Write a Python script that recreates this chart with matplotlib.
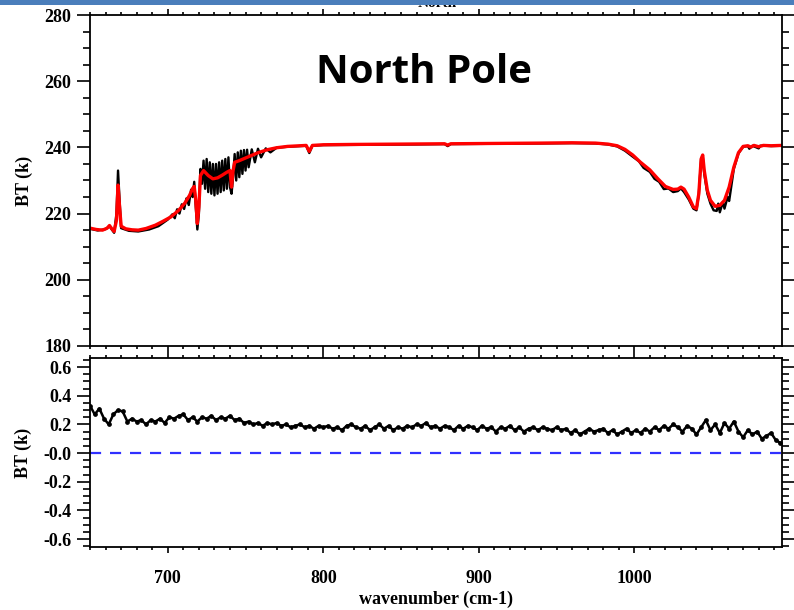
import numpy as np
import matplotlib
matplotlib.use("Agg")
import matplotlib.pyplot as plt
from matplotlib.ticker import MultipleLocator, FixedLocator, FixedFormatter
from matplotlib.patches import Rectangle

plt.rcParams['font.family'] = ['Liberation Serif', 'DejaVu Serif']
plt.rcParams['font.weight'] = 'bold'
plt.rcParams['axes.unicode_minus'] = False

# top panel: observed (black) and simulated (red) brightness temperature
wn_blk = [650, 655, 660, 662.5, 665.5, 667, 668, 669, 670, 675, 681, 688, 694, 700,
          703, 704.5, 706, 707.5, 709, 710.5, 712, 713.5, 715, 716, 717, 718, 719, 720,
          721, 722, 723, 724, 725, 726, 727, 728, 729, 730, 731, 732, 733, 734, 735, 736,
          737, 738, 739, 740, 741, 742, 743, 744, 745, 746, 747, 748, 749, 750, 751, 752,
          754, 756, 758, 760, 763, 766, 770, 777, 785, 789, 791, 793, 800, 830, 860, 878,
          880, 882, 910, 940, 960, 975, 983, 989, 994, 999, 1003, 1006, 1010, 1013, 1016,
          1019, 1022, 1025, 1028, 1030, 1032, 1035, 1038, 1040, 1041.5, 1043, 1044, 1045,
          1047, 1049, 1051, 1053, 1054, 1055, 1057, 1058, 1060, 1061, 1062, 1064, 1067,
          1070, 1073, 1074, 1076, 1080, 1081, 1084, 1088, 1095]
bt_blk = [215.4, 214.9, 215.3, 216.2, 214.2, 220.0, 233.0, 224.0, 215.6, 214.8, 214.6, 215.2, 216.2, 218.2,
          219.8, 218.6, 221.3, 220.0, 222.8, 221.4, 224.6, 222.6, 227.2, 225.0, 229.6, 222.0, 215.2, 220.0,
          233.5, 229.0, 236.0, 227.5, 236.5, 226.5, 235.5, 226.0, 235.0, 225.5, 235.0, 226.0, 235.5, 226.5, 236.0, 227.0,
          236.5, 227.5, 237.0, 228.0, 226.0, 231.0, 238.0, 230.0, 238.5, 231.0, 239.0, 232.0, 239.2, 233.0, 239.3, 234.0,
          239.4, 235.5, 239.6, 237.0, 239.7, 238.5, 239.9, 240.2, 240.4, 240.5, 238.3, 240.5, 240.7, 240.8, 240.9, 241.0,
          240.4, 241.0, 241.1, 241.2, 241.3, 241.2, 240.9, 240.3, 239.0, 237.2, 235.8, 233.8, 232.6, 230.5, 229.6,
          227.4, 227.6, 226.5, 226.8, 227.6, 226.5, 224.3, 221.5, 221.0, 226.0, 236.5, 237.5, 232.0,
          226.0, 223.0, 221.0, 220.8, 223.0, 220.4, 223.5, 221.5, 225.0, 223.8, 227.0, 233.5, 238.2,
          240.2, 240.4, 239.6, 240.5, 239.7, 240.5, 240.5, 240.4, 240.5]

wn_red = [650, 654, 658, 661, 662.5, 664, 665.5, 667, 668, 669, 670, 673, 677, 681, 686, 692,
          697, 702, 707, 711, 714, 716, 717, 718, 719, 720, 721, 723, 726, 729, 732, 735, 738,
          740, 741, 742, 743, 746, 750, 754, 758, 764, 770, 777, 785, 789, 791, 793, 800, 820,
          850, 878, 880, 882, 910, 940, 960, 975, 983, 989, 994, 999, 1004, 1010, 1015, 1020,
          1025, 1028, 1030, 1032, 1035, 1038, 1040, 1041.5, 1043, 1044, 1045, 1047, 1049, 1052,
          1055, 1058, 1061, 1064, 1067, 1070, 1073, 1075, 1077, 1080, 1083, 1088, 1095]
bt_red = [215.6, 215.2, 215.0, 215.6, 216.4, 215.4, 214.6, 218.0, 228.6, 222.0, 216.2, 215.4, 215.1, 215.0, 215.5, 216.5,
          217.7, 219.0, 221.0, 223.2, 225.5, 227.6, 228.2, 224.0, 217.0, 222.0, 231.5, 233.0, 231.5, 230.5, 230.8, 231.6, 232.5,
          233.0, 228.0, 233.0, 235.5, 236.0, 236.8, 237.6, 238.4, 239.3, 239.9, 240.3, 240.5, 240.6, 238.8, 240.6, 240.8, 240.9,
          241.0, 241.1, 240.7, 241.1, 241.2, 241.3, 241.4, 241.3, 241.0, 240.5, 239.4, 237.7, 235.5, 233.2, 230.6, 228.2,
          227.3, 227.4, 228.0, 227.4, 225.0, 222.0, 221.5, 226.0, 236.5, 237.7, 233.0, 227.0, 224.0, 222.2,
          222.5, 224.0, 228.0, 234.0, 238.4, 240.3, 240.5, 240.1, 240.6, 240.2, 240.6, 240.5, 240.6]

# bottom panel: difference, sampled every 3 cm-1 from 650
wn_diff = np.arange(650, 1095, 3)
bt_diff = [0.33, 0.27, 0.31, 0.24, 0.20, 0.27, 0.30, 0.29, 0.22, 0.24,
           0.22, 0.23, 0.20, 0.23, 0.22, 0.24, 0.21, 0.25, 0.24, 0.26,
           0.27, 0.23, 0.25, 0.22, 0.25, 0.24, 0.26, 0.23, 0.25, 0.24,
           0.26, 0.23, 0.24, 0.21, 0.22, 0.20, 0.21, 0.19, 0.21, 0.20,
           0.21, 0.19, 0.20, 0.18, 0.19, 0.20, 0.18, 0.19, 0.17, 0.19,
           0.18, 0.19, 0.17, 0.18, 0.16, 0.19, 0.20, 0.18, 0.17, 0.19,
           0.16, 0.18, 0.20, 0.17, 0.19, 0.16, 0.18, 0.17, 0.19, 0.18,
           0.20, 0.19, 0.21, 0.18, 0.19, 0.17, 0.19, 0.18, 0.16, 0.19,
           0.17, 0.19, 0.18, 0.16, 0.19, 0.17, 0.18, 0.15, 0.18, 0.17,
           0.19, 0.16, 0.18, 0.15, 0.17, 0.18, 0.16, 0.18, 0.17, 0.16,
           0.18, 0.16, 0.17, 0.14, 0.16, 0.13, 0.15, 0.17, 0.15, 0.16,
           0.17, 0.14, 0.16, 0.13, 0.15, 0.17, 0.14, 0.16, 0.14, 0.17,
           0.15, 0.18, 0.16, 0.19, 0.17, 0.20, 0.18, 0.15, 0.19, 0.17,
           0.13, 0.18, 0.23, 0.16, 0.20, 0.14, 0.21, 0.17, 0.22, 0.15,
           0.11, 0.16, 0.13, 0.15, 0.10, 0.12, 0.14, 0.09, 0.07]

diff_ticks = [-0.6, -0.4, -0.2, 0.0, 0.2, 0.4, 0.6]
diff_labels = ['-0.6', '-0.4', '-0.2', '-0.0', '0.2', '0.4', '0.6']

fig = plt.figure(figsize=(7.94, 6.10), dpi=100)
ax1 = fig.add_axes([0.1134, 0.4328, 0.8715, 0.5426])
ax2 = fig.add_axes([0.1134, 0.1033, 0.8715, 0.3098])

ax1.plot(wn_blk, bt_blk, color='black', lw=1.7)
ax1.plot(wn_red, bt_red, color='red', lw=2.4)
ax1.set_xlim(650, 1095)
ax1.set_ylim(180, 280)
ax1.set_ylabel('BT (k)', fontsize=13, fontweight='bold', labelpad=8)
ax1.text(0.483, 0.825, 'North Pole', transform=ax1.transAxes, ha='center', va='center',
         fontsize=29, fontweight='bold', family=['Open Sans', 'DejaVu Sans'])
ax1.yaxis.set_major_locator(MultipleLocator(20))
ax1.yaxis.set_minor_locator(MultipleLocator(5))
ax1.tick_params(labelbottom=False)

ax2.plot(wn_diff, bt_diff, color='black', lw=1.8, marker='o', ms=2.4)
ax2.axhline(0.0, color='#3030ff', lw=1.6, dashes=(5, 4))
ax2.set_xlim(650, 1095)
ax2.set_ylim(-0.655, 0.663)
ax2.set_ylabel('BT (k)', fontsize=13, fontweight='bold', labelpad=8)
ax2.set_xlabel('wavenumber (cm-1)', fontsize=13, fontweight='bold', labelpad=3)
ax2.yaxis.set_major_locator(FixedLocator(diff_ticks))
ax2.yaxis.set_major_formatter(FixedFormatter(diff_labels))
ax2.yaxis.set_minor_locator(MultipleLocator(0.05))

for ax in (ax1, ax2):
    ax.xaxis.set_major_locator(MultipleLocator(100))
    ax.xaxis.set_minor_locator(MultipleLocator(10))
    ax.tick_params(axis='both', which='both', direction='out', top=True, right=True,
                   labelsize=13, width=1.2)
    ax.tick_params(axis='y', which='major', length=9.5, pad=4)
    ax.tick_params(axis='y', which='minor', length=5)
    ax.tick_params(axis='x', which='major', length=4.5, pad=12)
    ax.tick_params(axis='x', which='minor', length=2.5)
    for s in ax.spines.values():
        s.set_linewidth(1.3)
    for lab in ax.get_xticklabels() + ax.get_yticklabels():
        lab.set_fontweight('bold')

# partially hidden title under the slide bar
fig.text(0.551, 1 - 7 / 610, 'North', ha='center', va='baseline', fontsize=11, fontweight='bold')
fig.patches.append(Rectangle((0, 1 - 4.5 / 610), 1, 4.5 / 610, transform=fig.transFigure,
                             facecolor='#4a7ebb', edgecolor='none', zorder=10))

fig.savefig('out.png', dpi=100)
